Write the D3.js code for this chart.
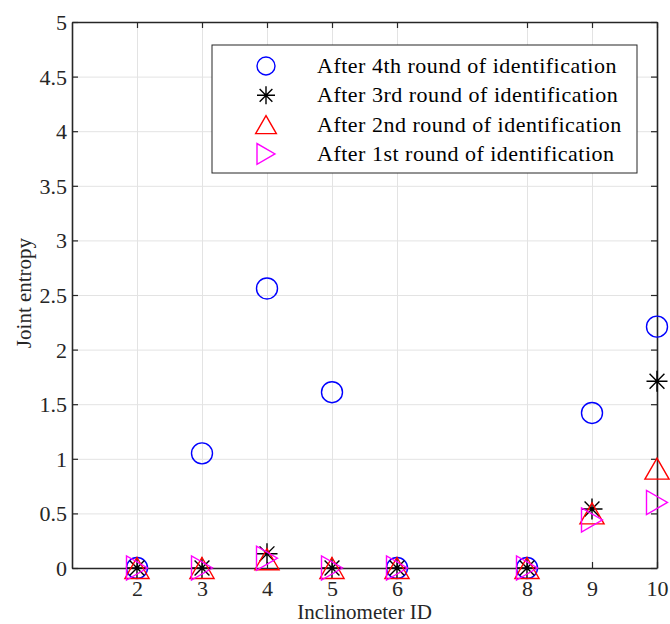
<!DOCTYPE html>
<html>
<head>
<meta charset="utf-8">
<title>Joint entropy</title>
<script src="https://d3js.org/d3.v7.min.js"></script>
<style>
  body { margin: 0; background: #fff; }
  .grid line { stroke: #e3e3e3; }
  .grid path { display: none; }
</style>
</head>
<body>
<div id="chart"></div>
<script>
// inclinometer ids and joint entropy values
var ids = [2, 3, 4, 5, 6, 8, 9, 10];
var round4 = [0, 1.05, 2.56, 1.61, 0, 0, 1.42, 2.21];
var round3 = [0, 0, 0.13, 0, 0, 0, 0.54, 1.71];
var round2 = [0, 0, 0.08, 0, 0, 0, 0.5, 0.91];
var round1 = [0, 0, 0.09, 0, 0, 0, 0.44, 0.6];
var xTicks = [2, 3, 4, 5, 6, 8, 9, 10];
var yTicks = [0, 0.5, 1, 1.5, 2, 2.5, 3, 3.5, 4, 4.5, 5];
var labels = ["After 4th round of identification", "After 3rd round of identification",
              "After 2nd round of identification", "After 1st round of identification"];

var width = 670, height = 624;
var margin = {top: 22, right: 13, bottom: 56, left: 72};
var w = width - margin.left - margin.right,
    h = height - margin.top - margin.bottom;
var serif = "'Liberation Serif', 'Times New Roman', serif";

var x = d3.scaleLinear().domain([1, 10]).range([0, w]);
var y = d3.scaleLinear().domain([0, 5]).range([h, 0]);

var svg = d3.select("#chart").append("svg")
    .attr("width", width).attr("height", height);
var g = svg.append("g")
    .attr("transform", "translate(" + margin.left + "," + margin.top + ")");

// grid
g.append("g").attr("class", "grid")
    .call(d3.axisBottom(x).tickValues(xTicks).tickSize(h).tickFormat(""));
g.append("g").attr("class", "grid")
    .call(d3.axisLeft(y).tickValues(yTicks).tickSize(-w).tickFormat(""));

// axes, ticks pointing inward like matlab
var tk = 6, fmt = d3.format("~g");
var xb = g.append("g")
    .attr("transform", "translate(0," + h + ")")
    .call(d3.axisBottom(x).tickValues(xTicks).tickSizeInner(-tk).tickSizeOuter(0).tickPadding(12).tickFormat(fmt));
var xt = g.append("g")
    .call(d3.axisTop(x).tickValues(xTicks).tickSizeInner(-tk).tickSizeOuter(0).tickFormat(""));
var yl = g.append("g")
    .call(d3.axisLeft(y).tickValues(yTicks).tickSizeInner(-tk).tickSizeOuter(0).tickPadding(5).tickFormat(fmt));
var yr = g.append("g")
    .attr("transform", "translate(" + w + ",0)")
    .call(d3.axisRight(y).tickValues(yTicks).tickSizeInner(-tk).tickSizeOuter(0).tickFormat(""));
[xb, xt, yl, yr].forEach(function(a) {
  a.select(".domain").attr("stroke", "#262626").attr("stroke-width", 1.6);
  a.selectAll(".tick line").attr("stroke", "#262626").attr("stroke-width", 1.2);
  a.selectAll("text")
    .style("font-family", serif).style("font-size", "22px").attr("fill", "#262626");
});
yl.selectAll("text").attr("dy", "0.34em");

// marker shapes
var sym = {
  circle: function(r) { return d3.symbol().type(d3.symbolCircle).size(Math.PI * r * r)(); },
  star: function(r) {
    var p = "";
    for (var i = 0; i < 4; i++) {
      var a = i * Math.PI / 4;
      var dx = r * Math.cos(a), dy = r * Math.sin(a);
      p += "M" + (-dx) + "," + (-dy) + "L" + dx + "," + dy;
    }
    return p;
  },
  up: function(r) { return "M0," + (-r) + "L" + (r * 1.15) + "," + r + "L" + (-r * 1.15) + "," + r + "Z"; },
  right: function(r) { return "M" + r + ",0L" + (-r) + "," + (r * 1.15) + "L" + (-r) + "," + (-r * 1.15) + "Z"; }
};

var series = [
  {vals: round4, color: "#0000ff", shape: "circle", r: 10.5},
  {vals: round3, color: "#000000", shape: "star", r: 10.5},
  {vals: round2, color: "#ff0000", shape: "up", r: 10.5},
  {vals: round1, color: "#ff00ff", shape: "right", r: 10.5}
];

series.forEach(function(s) {
  g.append("g").selectAll("path")
    .data(ids.map(function(id, i) { return {id: id, v: s.vals[i]}; }))
    .enter().append("path")
      .attr("transform", function(d) { return "translate(" + x(d.id) + "," + y(d.v) + ")"; })
      .attr("d", sym[s.shape](s.r))
      .attr("fill", "none")
      .attr("stroke", s.color)
      .attr("stroke-width", 1.4);
});

// axis titles
svg.append("text")
    .attr("x", margin.left + x(5.5)).attr("y", 619)
    .attr("text-anchor", "middle")
    .style("font-family", serif).style("font-size", "21px").attr("fill", "#262626")
    .text("Inclinometer ID");
svg.append("text")
    .attr("transform", "translate(31,293) rotate(-90)")
    .attr("text-anchor", "middle")
    .style("font-family", serif).style("font-size", "21px").attr("fill", "#262626")
    .text("Joint entropy");

// legend
var lg = svg.append("g").attr("transform", "translate(212,45)");
lg.append("rect").attr("width", 425).attr("height", 128)
    .attr("fill", "#fff").attr("stroke", "#262626").attr("stroke-width", 1);
series.forEach(function(s, i) {
  var cy = 21 + i * 29.3;
  lg.append("path")
    .attr("transform", "translate(54," + cy + ")")
    .attr("d", sym[s.shape](9))
    .attr("fill", "none").attr("stroke", s.color).attr("stroke-width", 1.4);
  lg.append("text")
    .attr("x", 105).attr("y", cy + 7)
    .style("font-family", serif).style("font-size", "22px")
    .style("letter-spacing", "0.5px").attr("fill", "#000")
    .text(labels[i]);
});
</script>
</body>
</html>
